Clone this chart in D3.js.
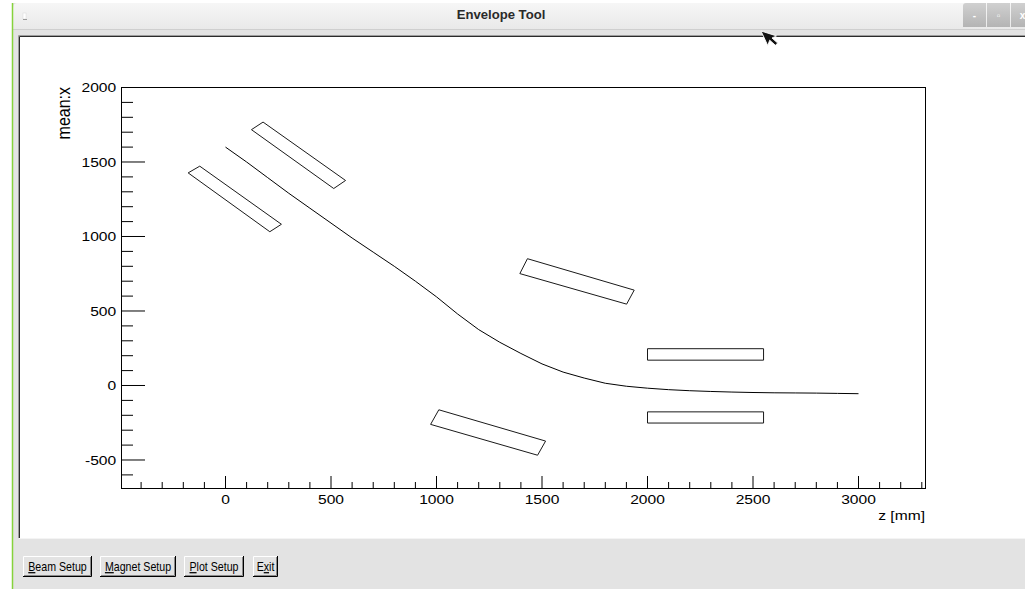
<!DOCTYPE html>
<html><head><meta charset="utf-8">
<script src="https://cdn.jsdelivr.net/npm/d3@7"></script>
<style>
html,body{margin:0;padding:0;background:#fff;overflow:hidden}
svg{display:block;font-family:"Liberation Sans",Arial,Helvetica,sans-serif}
</style>
</head><body>
<svg id="c" width="1025" height="589"></svg>
<script>
// ---------- data ----------
const zValues = [0,100,200,300,400,500,600,700,800,900,1000,1100,1200,1300,1400,1500,1600,1700,1800,1900,2000,2100,2200,2300,2400,2500,2600,2700,2800,2900,3000];
const meanX   = [1600,1500,1395,1290,1190,1090,990,895,800,700,595,480,375,290,215,145,90,50,15,-5,-18,-28,-35,-40,-44,-47,-49,-50,-51,-53,-55];
const magnetA = [[-177,1427],[-122,1472],[265,1082],[210,1032]];
const magnetB = [[123,1717],[178,1768],[569,1376],[513,1322]];
const magnetC = [[972,-261],[1011,-163],[1517,-373],[1479,-468]];
const magnetD = [[1395,751],[1431,851],[1937,640],[1901,546]];
const magnetE = [[2000,170],[2550,170],[2550,247],[2000,247]];
const magnetF = [[2000,-252],[2550,-252],[2550,-177],[2000,-177]];
const xMajorTicks = [0,500,1000,1500,2000,2500,3000];
const yMajorTicks = [-500,0,500,1000,1500,2000];
const xMinorTicks = d3.range(-400,3400,100).filter(v => v % 500 !== 0);
const yMinorTicks = d3.range(-600,2000,100).filter(v => v % 500 !== 0);
const xTitle = "z [mm]";
const yTitle = "mean:x";
const windowTitle = "Envelope Tool";
const buttonLabels = ["Beam Setup","Magnet Setup","Plot Setup","Exit"];
const buttonHotkey = [0,0,0,1];

// ---------- window chrome ----------
const svg = d3.select("#c");
const defs = svg.append("defs");
const tg = defs.append("linearGradient").attr("id","tb").attr("x1",0).attr("y1",0).attr("x2",0).attr("y2",1);
tg.append("stop").attr("offset","0%").attr("stop-color","#f6f6f6");
tg.append("stop").attr("offset","100%").attr("stop-color","#e9e9e9");
const bg = defs.append("linearGradient").attr("id","wb").attr("x1",0).attr("y1",0).attr("x2",0).attr("y2",1);
bg.append("stop").attr("offset","0%").attr("stop-color","#d0d0d0");
bg.append("stop").attr("offset","100%").attr("stop-color","#b4b4b4");

svg.append("rect").attr("width",1025).attr("height",589).attr("fill","#ffffff");
svg.append("rect").attr("x",13).attr("y",3).attr("width",1012).attr("height",586).attr("fill","#e3e3e3");
svg.append("path").attr("d","M13,30 L13,8 Q13,3 18,3 L1025,3 L1025,30 Z").attr("fill","url(#tb)");
svg.append("line").attr("x1",13).attr("x2",1025).attr("y1",29.5).attr("y2",29.5).attr("stroke","#cfcfcf");
svg.append("line").attr("x1",12.5).attr("x2",12.5).attr("y1",3).attr("y2",589).attr("stroke","#86d23c").attr("stroke-width",1.5);
svg.append("rect").attr("x",23).attr("y",13).attr("width",3).attr("height",6).attr("fill","#ffffff").attr("stroke","#d8d8d8").attr("stroke-width",0.5);
svg.append("line").attr("x1",23).attr("x2",27).attr("y1",19.5).attr("y2",19.5).attr("stroke","#9a9a9a");
svg.append("text").attr("transform","translate(501,18.5) scale(1.05,1)").attr("text-anchor","middle")
  .attr("font-size",12.5).attr("font-weight","bold").attr("fill","#2a2a2a").text(windowTitle);
const ctl = ["-","▫","x"];
ctl.forEach((c,i) => {
  const x0 = 963 + i*24;
  svg.append("path").attr("d", i===0 ? `M${x0},27 L${x0},6 Q${x0},3 ${x0+3},3 L${x0+23},3 L${x0+23},27 Z` : `M${x0},3 H${x0+23} V27 H${x0} Z`).attr("fill","url(#wb)");
  svg.append("text").attr("x",x0+11.5).attr("y",19).attr("text-anchor","middle").attr("font-size",10).attr("font-weight","bold").attr("fill","#ffffff").text(c);
});

// canvas (sunken)
svg.append("rect").attr("x",19).attr("y",36).attr("width",1006).attr("height",502).attr("fill","#ffffff");
svg.append("path").attr("d","M18.5,538 L18.5,35.5 L1025,35.5").attr("fill","none").attr("stroke","#9d9d9d");
svg.append("path").attr("d","M19.5,538 L19.5,36.5 L1025,36.5").attr("fill","none").attr("stroke","#2b2b2b");
svg.append("line").attr("x1",19).attr("x2",1025).attr("y1",538.5).attr("y2",538.5).attr("stroke","#f4f4f4");

// ---------- plot ----------
const x = d3.scaleLinear().domain([-492.9, 3317.5]).range([121, 925]);
const y = d3.scaleLinear().domain([-691.3, 2000]).range([488, 87]);
const fmt = d => String(d);

const plot = svg.append("g");
plot.append("g").attr("transform","translate(0,488)")
  .call(d3.axisBottom(x).tickValues(xMinorTicks).tickSize(-6).tickFormat(""));
const gxMajor = plot.append("g").attr("transform","translate(0,488)")
  .call(d3.axisBottom(x).tickValues(xMajorTicks).tickSize(-12).tickPadding(7).tickFormat(fmt));
plot.append("g").attr("transform","translate(121,0)")
  .call(d3.axisLeft(y).tickValues(yMinorTicks).tickSize(-12).tickFormat(""));
const gyMajor = plot.append("g").attr("transform","translate(121,0)")
  .call(d3.axisLeft(y).tickValues(yMajorTicks).tickSize(-24).tickPadding(4).tickFormat(fmt));
plot.selectAll(".domain").remove();
plot.selectAll(".tick line").attr("stroke","#000");
plot.selectAll(".tick text").attr("font-size",13).attr("fill","#000")
  .attr("font-family","'Liberation Sans',Arial,sans-serif");
gxMajor.selectAll(".tick text").attr("transform","scale(1.2,1)");
gyMajor.selectAll(".tick text").attr("dy","0.38em").attr("transform","scale(1.2,1)");

plot.append("rect").attr("x",121.5).attr("y",87.5).attr("width",804).attr("height",401)
  .attr("fill","none").attr("stroke","#000");

const poly = d3.line().x(d => x(d[0]) + 0.5).y(d => y(d[1]) + 0.5);
[magnetA, magnetB, magnetC, magnetD, magnetE, magnetF].forEach(m => {
  plot.append("path").attr("d", poly(m) + "Z").attr("fill","none").attr("stroke","#1a1a1a").attr("stroke-width",1);
});

const line = d3.line().x((d,i) => x(zValues[i]) + 0.5).y(d => y(d) + 0.5);
plot.append("path").attr("d", line(meanX)).attr("fill","none").attr("stroke","#000").attr("stroke-width",1);

plot.append("text").attr("transform","translate(925,520) scale(1.2,1)").attr("text-anchor","end")
  .attr("font-size",13).attr("fill","#000").text(xTitle);
plot.append("text").attr("transform","translate(70,87) rotate(-90) scale(1,1.2)").attr("text-anchor","end")
  .attr("font-size",16).attr("fill","#000").text(yTitle);

// ---------- buttons ----------
const btnX = [23,100,184,253];
const btnW = [69,76,60,25];
buttonLabels.forEach((lab,i) => {
  const g = svg.append("g").attr("transform",`translate(${btnX[i]},556)`);
  const w = btnW[i], h = 21;
  g.append("rect").attr("width",w).attr("height",h).attr("fill","#e3e3e3");
  g.append("path").attr("d",`M0.5,${h} L0.5,0.5 L${w},0.5`).attr("fill","none").attr("stroke","#ffffff");
  g.append("path").attr("d",`M${w-0.5},0 L${w-0.5},${h-0.5} L0,${h-0.5}`).attr("fill","none").attr("stroke","#000");
  g.append("path").attr("d",`M${w-1.5},1 L${w-1.5},${h-1.5} L1,${h-1.5}`).attr("fill","none").attr("stroke","#8a8a8a");
  const t = g.append("text").attr("transform",`translate(${w/2},15) scale(0.85,1)`).attr("text-anchor","middle")
    .attr("font-size",12.5).attr("fill","#000");
  const k = buttonHotkey[i];
  if (k > 0) t.append("tspan").text(lab.slice(0,k));
  t.append("tspan").attr("text-decoration","underline").text(lab[k]);
  t.append("tspan").text(lab.slice(k+1));
});

// mouse pointer
svg.append("path").attr("d","M761,31 L761,47 L765,43 L768,50 L771,49 L768,42 L773,42 Z")
  .attr("fill","#111").attr("stroke","#ffffff").attr("stroke-width",0.8)
  .attr("transform","rotate(-25,761,31)");
</script>
</body></html>
